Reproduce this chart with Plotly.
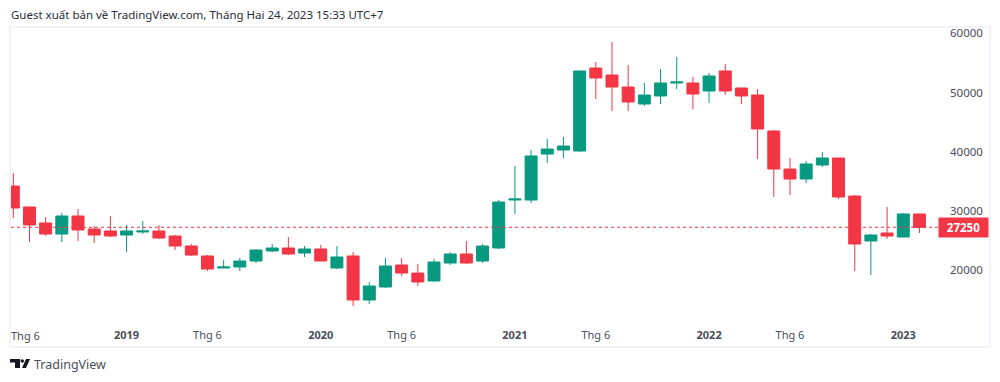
import plotly.graph_objects as go

months = [f"{y}-{m:02d}" for y in range(2018, 2024) for m in range(1, 13)][5:62]
opens = [34220,30680,27980,26120,29160,26960,26630,25950,26460,26630,25780,24090,22410,20380,20550,21560,23250,23760,22910,23590,20380,22410,14980,17170,20890,19530,18190,21220,22740,21560,23760,31860,31860,39620,40300,40130,54140,52960,50930,48060,49420,51610,51610,50260,53640,50770,49580,43510,37090,35400,37770,38950,32530,24940,26290,25610,29500]
highs = [36420,30680,28990,29660,30340,27470,29160,27640,28310,27640,25950,24430,22570,21730,22070,23590,24430,25610,24090,24260,24090,23080,18020,22070,22070,21060,21900,23080,24940,24430,31860,37600,40300,42160,42490,53640,55150,58530,54650,51610,53970,56000,52620,53300,54820,50770,50600,43680,38950,38440,39960,38950,32700,26120,30680,29670,29500]
lows = [28820,24770,25780,24770,24940,24600,25610,23080,26120,25280,23420,22410,19870,20380,19870,21220,23080,22570,22240,21560,20210,13970,14300,17000,19030,17340,18020,20890,21060,21220,23590,29500,31350,38100,38950,39960,48910,46880,46880,47730,48060,50600,47220,48230,49580,48060,38780,32370,32700,34730,37430,32030,19870,19200,25280,25610,26290]
closes = [30510,27640,26120,29160,26800,25950,25780,26630,26630,25440,24090,22570,20210,20550,21560,23420,23760,22740,23590,21560,22240,14980,17340,20720,19530,18020,21390,22740,21220,24090,31520,32030,39290,40470,40970,53640,52450,50930,48400,49580,51610,51780,49750,52790,50260,49420,43850,37090,35400,37940,38950,32370,24430,25950,25780,29500,27250]
y_ticks = [20000, 30000, 40000, 50000, 60000]
x_tick_months = ["2019-01", "2019-06", "2020-01", "2020-06", "2021-01", "2021-06", "2022-01", "2022-06", "2023-01"]
x_tick_labels = ["2019", "Thg 6", "2020", "Thg 6", "2021", "Thg 6", "2022", "Thg 6", "2023"]
last_price = 27250

RED, GREEN = "#f23645", "#089981"
W, H, L, R, T, B = 1000, 382, 11, 55, 28, 36
PW, PH = W - L - R, H - T - B


def px(x):
    return (x - L) / PW


def py(y):
    return 1 - (y - T) / PH


fig = go.Figure(go.Candlestick(
    x=months, open=opens, high=highs, low=lows, close=closes,
    increasing=dict(line=dict(color=GREEN, width=1), fillcolor=GREEN),
    decreasing=dict(line=dict(color=RED, width=1), fillcolor=RED),
    whiskerwidth=0, showlegend=False, hoverinfo="skip",
))

shapes = [
    dict(type="line", xref="paper", x0=0, x1=1, yref="y", y0=last_price, y1=last_price,
         line=dict(color=RED, width=1, dash="dot"), layer="above"),
    dict(type="rect", xref="paper", yref="paper", x0=px(10), x1=px(990), y0=py(347), y1=py(27),
         line=dict(color="#f0f3fa", width=2), fillcolor="rgba(0,0,0,0)"),
    # TradingView logo
    dict(type="path", xref="paper", yref="paper", fillcolor="#131722", line=dict(width=0),
         path=f"M {px(10)} {py(359)} L {px(20)} {py(359)} L {px(20)} {py(368)} L {px(15)} {py(368)} L {px(15)} {py(362.5)} L {px(10)} {py(362.5)} Z"),
    dict(type="path", xref="paper", yref="paper", fillcolor="#131722", line=dict(width=0),
         path=f"M {px(26)} {py(359)} L {px(30)} {py(359)} L {px(26)} {py(368)} L {px(22)} {py(368)} Z"),
    dict(type="circle", xref="paper", yref="paper", fillcolor="#131722", line=dict(width=0),
         x0=px(20.5), x1=px(24), y0=py(362.8), y1=py(359.2)),
]

annotations = [
    dict(text="Guest xuất bản về TradingView.com, Tháng Hai 24, 2023 15:33 UTC+7", xref="paper", yref="paper",
         x=px(10), y=py(14.5), xanchor="left", yanchor="middle", showarrow=False, xshift=-1,
         font=dict(family="Noto Sans", size=11.5, color="#2a2e39")),
    dict(text="TradingView", xref="paper", yref="paper", x=px(33), y=py(364.5), xanchor="left", yanchor="middle",
         showarrow=False, xshift=-1, font=dict(family="Noto Sans", size=12.5, color="#4a4e59")),
    dict(text="Thg 6", xref="paper", yref="paper", x=px(10), y=py(335), xanchor="left", yanchor="middle",
         showarrow=False, xshift=-1, font=dict(family="Noto Sans", size=11, color="#4a4e59")),
    dict(text=f"<b>{last_price}</b>", xref="paper", yref="y", x=px(989), y=last_price, xanchor="right", yanchor="middle",
         showarrow=False, width=47, height=17, bgcolor=RED, font=dict(family="Noto Sans", size=11.5, color="#ffffff")),
]

fig.update_layout(
    width=W, height=H, autosize=False,
    margin=dict(l=L, r=R, t=T, b=B, autoexpand=False),
    paper_bgcolor="#ffffff", plot_bgcolor="#ffffff",
    boxgap=0.26, boxgroupgap=0, boxmode="overlay", shapes=shapes, annotations=annotations,
    xaxis=dict(type="category", categoryorder="array", categoryarray=months,
               range=[-0.142, 57.58], rangeslider=dict(visible=False),
               tickmode="array", tickvals=x_tick_months, ticktext=[f"<b>{t}</b>" if t.isdigit() else t for t in x_tick_labels],
               ticklabelposition="inside", ticklabelstandoff=2, ticks="", showgrid=False, zeroline=False, showline=False,
               tickfont=dict(family="Noto Sans", size=11, color="#4a4e59")),
    yaxis=dict(side="right", range=[7215, 60895], tickmode="array", tickvals=y_ticks,
               ticktext=[str(v) for v in y_ticks], ticklabelstandoff=4, ticks="",
               showgrid=False, zeroline=False, showline=False,
               tickfont=dict(family="Noto Sans", size=11.5, color="#4a4e59")),
)

fig.write_html("out.html", config=dict(displayModeBar=False),
               post_script="document.body.style.margin='0';")
